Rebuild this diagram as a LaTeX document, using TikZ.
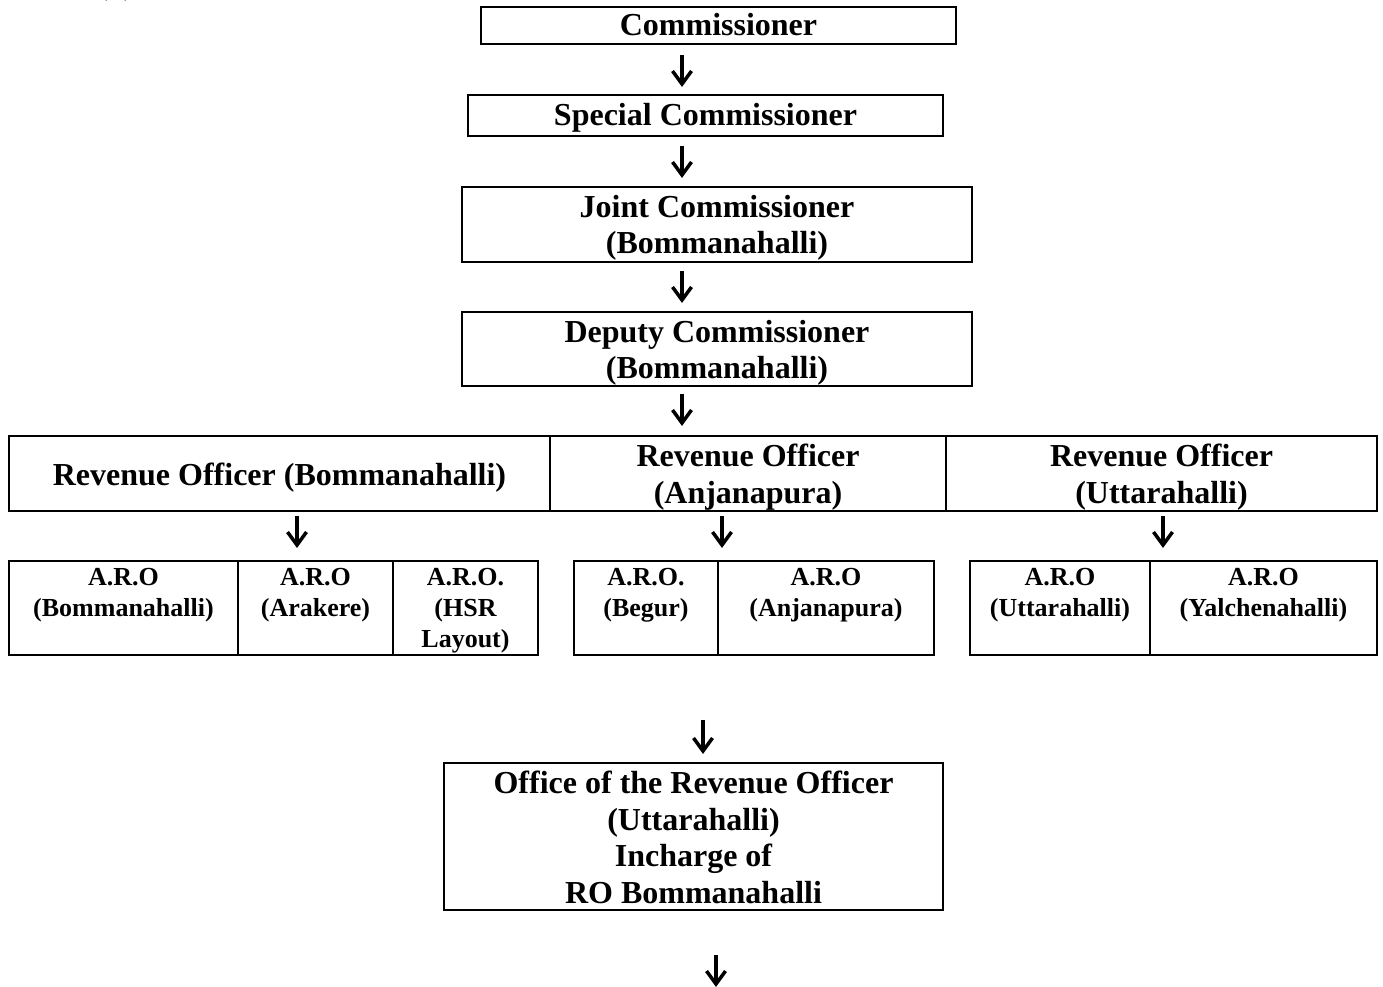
\documentclass[tikz,border=0pt]{standalone}
\usepackage{fontspec}
\setmainfont{Liberation Serif}
\newcommand{\orgdarrow}[4]{% name, x, ytop, ybottom
  \coordinate (#1s) at (#2,#3);
  \coordinate (#1e) at (#2,#4);
  \draw[arrline] (#1s) -- (#1e);
  \draw[arrline] ([xshift=-9.5pt,yshift=13pt]#1e) -- (#1e) -- ([xshift=9.5pt,yshift=13pt]#1e);
}
\begin{document}
\begin{tikzpicture}[x=1pt,y=-1pt,
  box/.style={draw, line width=2pt, inner sep=0pt, anchor=north west},
  big/.style={font=\bfseries\fontsize{32}{36.5}\selectfont, align=center, inner sep=0pt},
  small/.style={font=\bfseries\fontsize{26}{31}\selectfont, align=center, inner sep=0pt},
  arrline/.style={line width=3.5pt, line join=miter, line cap=butt}]
\useasboundingbox (0,0) rectangle (1383,987);
% partially visible caption
\node[big, anchor=base west] (cap) at (97,-5) {(a)};
% boxes
\node[box, minimum width=475, minimum height=37] (comm) at (480,6) {};
\node[box, minimum width=475, minimum height=41] (spec) at (467,94) {};
\node[box, minimum width=510, minimum height=75] (joint) at (461,186) {};
\node[box, minimum width=510, minimum height=74] (dep) at (461,311) {};
\node[box, minimum width=541, minimum height=75] (ro1) at (8,435) {};
\node[box, minimum width=396, minimum height=75] (ro2) at (549,435) {};
\node[box, minimum width=431, minimum height=75] (ro3) at (945,435) {};
\node[box, minimum width=229, minimum height=94] (a1) at (8,560) {};
\node[box, minimum width=155, minimum height=94] (a2) at (237,560) {};
\node[box, minimum width=145, minimum height=94] (a3) at (392,560) {};
\node[box, minimum width=144, minimum height=94] (a4) at (573,560) {};
\node[box, minimum width=216, minimum height=94] (a5) at (717,560) {};
\node[box, minimum width=180, minimum height=94] (a6) at (969,560) {};
\node[box, minimum width=227, minimum height=94] (a7) at (1149,560) {};
\node[box, minimum width=499, minimum height=147] (off) at (443,762) {};
% texts
\node[big, anchor=base] (tcomm) at (comm.center |- 0,36) {Commissioner};
\node[big, anchor=base] (tspec) at (spec.center |- 0,126) {Special Commissioner};
\node[big, anchor=north] (tjoint) at (joint.center |- 0,195) {Joint Commissioner\\(Bommanahalli)};
\node[big, anchor=north] (tdep) at (dep.center |- 0,320) {Deputy Commissioner\\(Bommanahalli)};
\node[big, anchor=base] (tro1) at (ro1.center |- 0,485) {Revenue Officer (Bommanahalli)};
\node[big, anchor=north] (tro2) at (ro2.center |- 0,444) {Revenue Officer\\(Anjanapura)};
\node[big, anchor=north] (tro3) at (ro3.center |- 0,444) {Revenue Officer\\(Uttarahalli)};
\node[small, anchor=north] (ta1) at (a1.center |- 0,568.5) {A.R.O\\(Bommanahalli)};
\node[small, anchor=north] (ta2) at (a2.center |- 0,568.5) {A.R.O\\(Arakere)};
\node[small, anchor=north] (ta3) at (a3.center |- 0,568.5) {A.R.O.\\(HSR\\Layout)};
\node[small, anchor=north] (ta4) at (a4.center |- 0,568.5) {A.R.O.\\(Begur)};
\node[small, anchor=north] (ta5) at (a5.center |- 0,568.5) {A.R.O\\(Anjanapura)};
\node[small, anchor=north] (ta6) at (a6.center |- 0,568.5) {A.R.O\\(Uttarahalli)};
\node[small, anchor=north] (ta7) at (a7.center |- 0,568.5) {A.R.O\\(Yalchenahalli)};
\node[big, anchor=north] (toff) at (off.center |- 0,771) {Office of the Revenue Officer\\(Uttarahalli)\\Incharge of\\RO Bommanahalli};
% arrows
\orgdarrow{d1}{682}{55}{84}
\orgdarrow{d2}{682}{146}{175}
\orgdarrow{d3}{682}{271}{300}
\orgdarrow{d4}{682}{394}{423}
\orgdarrow{d5}{297}{516}{545}
\orgdarrow{d6}{722}{516}{545}
\orgdarrow{d7}{1163}{516}{545}
\orgdarrow{d8}{703}{720}{751}
\orgdarrow{d9}{716}{955}{984}
\end{tikzpicture}
\end{document}
